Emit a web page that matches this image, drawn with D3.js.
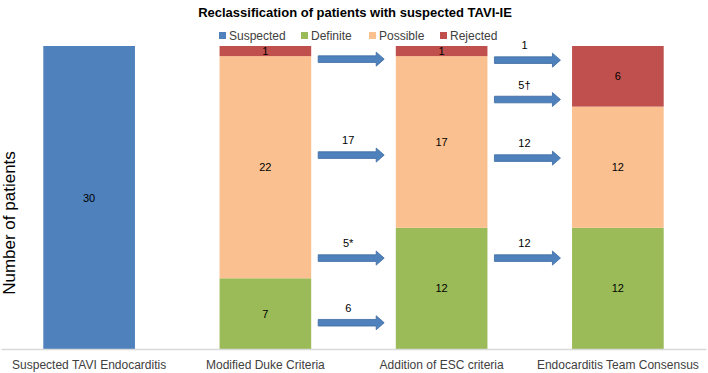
<!DOCTYPE html>
<html>
<head>
<meta charset="utf-8">
<script src="https://cdn.jsdelivr.net/npm/d3@7"></script>
<style>
  body { margin: 0; background: #fff; }
  svg { font-family: "Liberation Sans", Arial, sans-serif; }
</style>
</head>
<body>
<div id="chart"></div>
<script>
var categories = ["Suspected TAVI Endocarditis", "Modified Duke Criteria", "Addition of ESC criteria", "Endocarditis Team Consensus"];
var seriesNames = ["Suspected", "Definite", "Possible", "Rejected"];
var suspected = [30, 0, 0, 0];
var definite = [0, 7, 12, 12];
var possible = [0, 22, 17, 12];
var rejected = [0, 1, 1, 6];
var colors = ["#4F81BD", "#9BBB59", "#FAC090", "#C0504D"];

// arrows between stages: starting stage, level (in patients), label
var arrowFrom = [1, 1, 1, 1, 2, 2, 2, 2];
var arrowLevel = [28.7, 19.2, 9.0, 2.6, 28.6, 24.7, 18.9, 9.0];
var arrowLabel = ["", "17", "5*", "6", "1", "5\u2020", "12", "12"];

var width = 708, height = 373;
var baseline = 349, topY = 46;

var svg = d3.select("#chart").append("svg")
    .attr("width", width)
    .attr("height", height);

var x = d3.scaleBand()
    .domain(categories)
    .range([1, 706])
    .paddingInner(0.48)
    .paddingOuter(0.24);

var y = d3.scaleLinear()
    .domain([0, 30])
    .range([baseline, topY]);

var table = categories.map(function (c, i) {
    return { cat: c, Suspected: suspected[i], Definite: definite[i], Possible: possible[i], Rejected: rejected[i] };
});

var stacked = d3.stack().keys(seriesNames)(table);

// title
svg.append("text")
    .attr("x", 355).attr("y", 17)
    .attr("text-anchor", "middle")
    .style("font-size", "13px")
    .style("font-weight", "bold")
    .style("fill", "#000")
    .text("Reclassification  of patients with suspected TAVI-IE");

// legend
var legendX = [219, 301, 369, 440];
var legend = svg.selectAll(".legend").data(seriesNames).enter().append("g")
    .attr("transform", function (d, i) { return "translate(" + legendX[i] + ",32)"; });
legend.append("rect").attr("width", 7).attr("height", 7).style("fill", function (d, i) { return colors[i]; });
legend.append("text").attr("x", 10).attr("y", 8)
    .style("font-size", "12px").style("fill", "#404040")
    .text(function (d) { return d; });

// bars
var layers = svg.append("g").selectAll("g")
    .data(stacked)
    .enter().append("g")
    .attr("fill", function (d, i) { return colors[i]; });

layers.selectAll("rect")
    .data(function (d) { return d.filter(function (s) { return s[1] - s[0] > 0; }); })
    .enter().append("rect")
    .attr("x", function (d) { return x(d.data.cat); })
    .attr("y", function (d) { return y(d[1]); })
    .attr("width", x.bandwidth())
    .attr("height", function (d) { return y(d[0]) - y(d[1]); });

layers.selectAll("text")
    .data(function (d) { return d.filter(function (s) { return s[1] - s[0] > 0; }); })
    .enter().append("text")
    .attr("x", function (d) { return x(d.data.cat) + x.bandwidth() / 2; })
    .attr("y", function (d) { return y((d[0] + d[1]) / 2) + 4; })
    .attr("text-anchor", "middle")
    .style("font-size", "11px")
    .style("fill", "#000")
    .text(function (d) { return d[1] - d[0]; });

// axis
var axis = svg.append("g")
    .attr("transform", "translate(0," + baseline + ")")
    .call(d3.axisBottom(x).tickSize(0).tickPadding(11));
axis.select(".domain").attr("stroke", "#d9d9d9").attr("stroke-width", 1.5);
axis.selectAll(".tick text")
    .style("font-size", "12px")
    .style("font-family", "Liberation Sans, Arial, sans-serif")
    .style("fill", "#404040");

// y label
svg.append("text")
    .attr("transform", "translate(15,223) rotate(-90)")
    .attr("text-anchor", "middle")
    .style("font-size", "17px")
    .style("fill", "#000")
    .text("Number of patients");

// arrows
var arrows = svg.append("g").selectAll("g")
    .data(arrowLevel)
    .enter().append("g")
    .attr("transform", function (d, i) {
        var x0 = x(categories[arrowFrom[i]]) + x.bandwidth() + 7;
        return "translate(" + x0 + "," + y(d) + ")";
    });

var len = 66, sh = 3.3, hh = 7, hl = 8;
arrows.append("path")
    .attr("d", "M0," + (-sh) + "H" + (len - hl) + "V" + (-hh) + "L" + len + ",0L" + (len - hl) + "," + hh +
        "V" + sh + "H0Z")
    .style("fill", "#4F81BD")
    .style("stroke", "#3A6A9F")
    .style("stroke-width", 0.8);

arrows.append("text")
    .attr("x", 30).attr("y", -11)
    .attr("text-anchor", "middle")
    .style("font-size", "11px")
    .style("fill", "#000")
    .text(function (d, i) { return arrowLabel[i]; });
</script>
</body>
</html>
